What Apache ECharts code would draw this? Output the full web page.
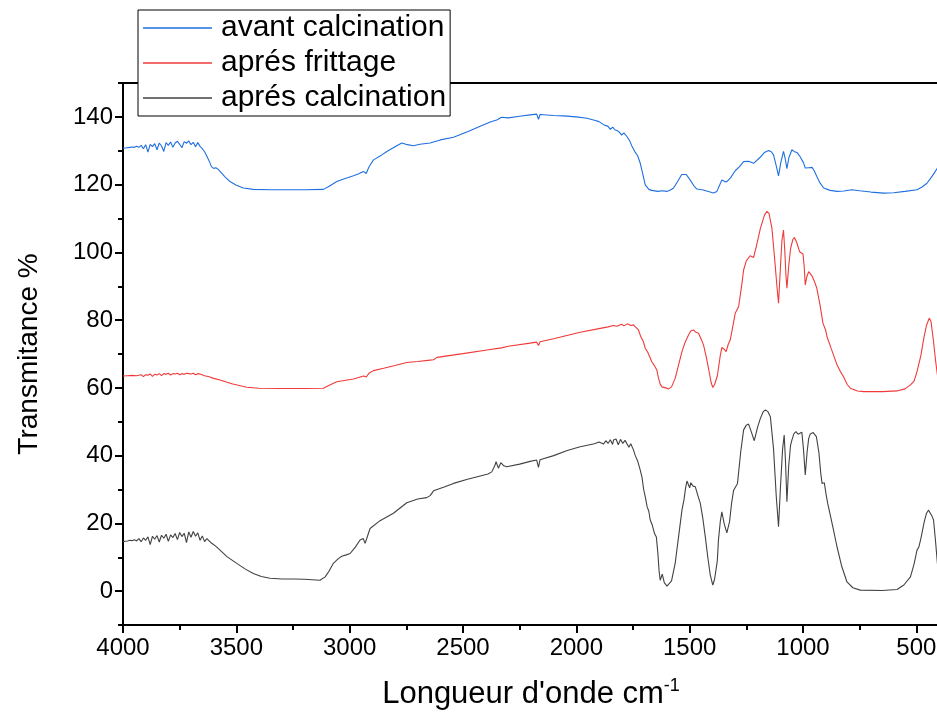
<!DOCTYPE html>
<html><head><meta charset="utf-8">
<script src="https://cdn.jsdelivr.net/npm/echarts@6/dist/echarts.min.js"></script>
<style>html,body{margin:0;padding:0;background:#fff}#c{width:937px;height:713px}</style>
</head><body><div id="c"></div>
<script>
// ---- data ----
const seriesNames = ['avant calcination', 'aprés frittage', 'aprés calcination'];
const xMajorTicks = [500, 1000, 1500, 2000, 2500, 3000, 3500, 4000];
const xMinorTicks = [750, 1250, 1750, 2250, 2750, 3250, 3750];
const yMajorTicks = [0, 20, 40, 60, 80, 100, 120, 140];

const blueWn = [4000,3990,3980,3970,3960,3950,3940,3930,3920,3910,3900,3890,3880,3870,3860,3850,3840,3830,3820,3810,3800,3790,3780,3770,3760,3750,3740,3730,3720,3710,3700,3690,3680,3670,3660,3650,3640,3630,3620,3610,3600,3590,3580,3572,3550,3528,3500,3469,3425,3350,3278,3200,3116,3090,3057,3020,2983,2960,2939,2927,2915,2895,2860,2836,2800,2770,2745,2719,2690,2645,2600,2542,2480,2424,2380,2351,2330,2300,2250,2204,2175,2167,2160,2100,2057,2000,1953,1920,1900,1880,1860,1850,1840,1830,1821,1810,1800,1790,1777,1765,1755,1748,1740,1730,1718,1708,1696,1680,1667,1640,1620,1601,1585,1571,1550,1535,1527,1515,1498,1480,1468,1440,1410,1395,1380,1368,1358,1345,1336,1320,1313,1299,1280,1262,1240,1218,1190,1170,1152,1140,1130,1118,1108,1098,1086,1078,1071,1062,1049,1040,1027,1015,1005,998,990,975,960,950,939,925,909,880,850,820,784,750,700,644,600,550,497,475,453,430,407,400];
const blueT = [130.8,130.8,130.9,131.0,131.1,131.0,131.3,131.0,131.6,130.6,131.8,129.6,131.9,131.2,132.1,130.3,132.3,131.4,129.8,132.4,131.6,132.6,131.0,132.3,132.8,131.9,130.9,132.7,132.2,132.9,131.8,132.5,131.2,132.4,131.3,130.6,129.7,128.4,127.0,125.3,124.8,125.0,124.5,123.9,122.3,120.9,119.8,119.0,118.6,118.5,118.5,118.5,118.6,119.5,120.9,121.8,122.6,123.2,123.9,123.3,125.2,127.3,128.7,129.8,131.2,132.3,131.8,131.5,131.9,132.3,133.2,134.0,135.6,137.2,138.5,139.1,139.9,139.7,140.2,140.6,140.8,139.3,140.7,140.4,140.3,140.0,139.6,139.0,138.6,137.7,137.2,136.3,137.0,136.2,136.0,135.5,134.6,135.3,134.2,133.0,131.4,131.3,129.5,128.6,126.3,123.5,119.9,118.6,118.3,118.0,118.2,118.0,118.4,119.0,121.3,123.0,123.4,123.0,121.4,119.5,118.7,118.4,117.8,117.5,118.0,119.8,121.4,120.9,120.9,122.0,122.4,124.1,125.3,126.8,126.9,126.3,128.0,129.5,130.1,129.7,128.8,125.5,122.6,126.5,129.8,127.5,124.7,128.0,130.3,129.8,129.5,128.5,127.3,126.5,124.9,125.0,125.1,124.0,122.4,120.5,119.0,118.3,118.0,118.1,118.5,118.2,117.8,117.5,117.6,118.0,118.5,119.3,120.4,122.5,124.9,125.5];

const redWn = [4000,3980,3960,3940,3920,3910,3900,3890,3880,3870,3860,3850,3840,3830,3820,3810,3800,3790,3780,3770,3760,3750,3740,3730,3720,3710,3700,3690,3680,3670,3660,3640,3620,3600,3572,3520,3454,3400,3300,3200,3116,3090,3057,2983,2939,2927,2915,2895,2850,2800,2748,2700,2645,2630,2615,2500,2395,2330,2300,2204,2175,2167,2160,2100,1983,1900,1860,1836,1820,1800,1790,1775,1760,1748,1740,1726,1715,1705,1696,1685,1667,1655,1645,1638,1630,1622,1615,1605,1593,1580,1564,1550,1534,1520,1505,1495,1483,1475,1461,1450,1439,1428,1417,1405,1398,1390,1383,1378,1373,1365,1358,1349,1339,1330,1321,1310,1299,1284,1272,1262,1250,1233,1218,1205,1188,1170,1159,1150,1137,1125,1115,1108,1100,1093,1086,1080,1075,1071,1063,1055,1045,1038,1028,1015,1000,995,990,983,975,960,950,939,925,912,900,894,875,850,835,821,805,791,760,733,650,585,550,526,510,497,480,467,455,443,435,424,415,407,400];
const redT = [63.5,63.6,63.7,63.6,63.9,63.3,63.9,63.7,64.1,63.4,64.0,63.8,64.2,63.6,64.2,64.0,64.3,63.8,64.2,64.1,64.3,63.9,64.2,64.0,64.3,64.2,64.1,64.3,63.9,64.2,64.1,63.6,63.3,62.8,62.3,61.2,60.2,59.9,59.8,59.8,59.9,60.8,61.8,62.6,63.5,63.2,64.3,65.1,65.8,66.6,67.5,67.8,68.2,68.3,69.0,70.1,71.2,71.8,72.3,73.2,73.5,72.5,73.6,74.5,76.4,77.5,78.0,78.4,78.2,78.8,78.3,78.9,78.4,78.6,78.4,77.1,75.0,73.8,71.7,70.5,67.7,66.5,65.3,63.0,61.1,60.3,60.7,60.0,59.7,60.3,62.8,66.5,70.7,73.5,75.6,76.8,77.1,76.5,76.1,74.5,72.7,69.5,65.8,61.5,60.1,61.0,60.7,63.5,65.8,69.5,71.9,71.5,70.7,72.8,74.2,78.0,82.0,84.0,89.5,94.8,97.5,99.0,98.5,102.0,107.1,111.0,112.1,111.5,107.1,98.0,90.0,85.0,95.0,103.5,106.6,100.0,93.0,89.4,96.0,101.0,103.8,104.4,103.0,100.2,99.5,96.0,90.4,92.8,94.3,93.0,91.5,89.4,84.5,79.1,77.0,75.1,71.5,66.8,64.8,63.3,61.0,59.9,59.1,58.9,58.9,59.1,59.7,60.9,62.0,64.8,69.5,74.7,78.5,80.6,79.5,73.6,68.0,63.8,62.0];

const blackWn = [4000,3990,3980,3970,3960,3950,3940,3930,3920,3910,3900,3890,3880,3870,3860,3850,3840,3830,3820,3810,3800,3790,3780,3770,3760,3750,3740,3730,3720,3710,3700,3690,3680,3670,3660,3650,3640,3630,3610,3590,3572,3540,3498,3460,3425,3390,3351,3300,3248,3200,3131,3108,3090,3072,3050,3035,3015,2998,2975,2954,2940,2932,2920,2910,2866,2807,2748,2700,2660,2645,2630,2580,2542,2480,2424,2390,2373,2360,2354,2344,2333,2320,2307,2250,2204,2175,2167,2160,2100,2040,1983,1920,1900,1880,1870,1860,1850,1840,1836,1825,1815,1805,1795,1785,1777,1768,1760,1748,1740,1730,1718,1710,1703,1696,1688,1680,1674,1665,1655,1647,1640,1635,1630,1621,1612,1600,1593,1580,1564,1550,1534,1525,1518,1512,1505,1500,1495,1485,1475,1465,1453,1442,1431,1420,1409,1398,1390,1383,1378,1373,1365,1358,1348,1336,1324,1315,1306,1289,1275,1262,1250,1240,1228,1215,1200,1188,1175,1166,1155,1144,1130,1118,1108,1100,1090,1083,1077,1071,1063,1055,1049,1040,1031,1022,1015,1005,998,990,982,975,968,955,941,930,922,916,906,898,891,870,850,830,806,780,747,650,585,555,526,510,497,489,480,465,455,446,438,430,424,415,407,400];
const blackT = [14.6,14.7,14.8,15.0,14.9,15.2,14.8,15.5,14.6,15.7,15.0,16.0,13.7,16.2,15.3,16.4,14.5,16.5,15.6,16.8,14.7,16.6,15.8,17.0,15.2,17.3,16.1,17.1,14.3,17.5,15.9,17.6,16.2,17.2,15.0,16.3,14.6,15.5,14.2,13.2,12.1,10.1,8.2,6.5,5.2,4.3,3.8,3.6,3.6,3.5,3.2,4.2,6.0,8.2,9.6,10.3,10.7,11.1,13.0,15.1,15.5,14.1,16.5,18.5,20.8,23.0,26.1,27.2,27.6,28.2,29.6,30.8,31.8,33.0,34.0,34.6,35.2,37.0,38.2,36.3,37.9,37.0,36.7,37.5,38.3,38.7,36.5,38.8,40.0,41.5,42.6,43.5,44.0,43.4,44.4,43.6,44.7,43.3,44.6,44.9,43.2,44.8,43.6,44.5,44.1,42.5,43.5,41.7,40.0,38.5,35.7,33.5,30.0,27.9,25.0,23.5,21.0,19.5,17.0,16.0,11.0,6.0,3.2,5.0,2.5,1.5,1.3,3.0,8.2,15.5,23.9,27.0,30.5,32.5,32.3,30.5,32.0,31.0,30.8,28.5,25.9,21.5,16.0,10.0,4.7,1.8,3.5,3.2,9.0,15.1,20.5,23.4,20.0,17.2,20.5,26.0,29.8,31.8,41.0,47.6,49.0,49.3,47.0,44.4,48.5,51.0,53.0,53.5,53.0,51.5,42.0,28.0,19.0,30.0,42.0,46.1,38.0,26.4,37.0,43.0,44.6,46.5,47.1,46.3,46.1,46.9,42.0,34.3,41.0,45.0,46.4,46.8,45.6,41.0,35.0,31.8,32.0,28.5,25.9,19.5,13.1,7.5,2.7,1.0,0.3,0.2,0.5,1.8,4.2,8.0,12.1,13.0,15.5,20.5,23.0,23.9,23.5,22.0,21.0,14.5,8.2,5.0];

// ---- chart ----
const pair = (xs, ys) => xs.map((x, i) => [x, ys[i]]);
const FONT = 'Liberation Sans, Arial, sans-serif';
const plain = v => String(v);
const chart = echarts.init(document.getElementById('c'), null, {renderer: 'canvas'});
const lineSeries = (name, xs, ys, color) => ({
  name, type: 'line', data: pair(xs, ys), showSymbol: false, symbol: 'none',
  xAxisIndex: 0, yAxisIndex: 0,
  lineStyle: {color, width: 1.1}, itemStyle: {color}, animation: false, z: 3
});
const rect = {left: 123, top: 83, width: 816, height: 542, containLabel: false, outerBoundsMode: 'none'};
chart.setOption({
  backgroundColor: '#fff',
  animation: false,
  grid: [
    Object.assign({show: true, borderColor: '#000', borderWidth: 2, backgroundColor: 'transparent'}, rect),
    Object.assign({show: false}, rect)
  ],
  legend: {
    left: 138, top: 10, orient: 'vertical',
    data: seriesNames.map(n => ({name: n, icon: 'rect'})),
    itemWidth: 69, itemHeight: 1.5, itemGap: 5,
    padding: [3, 4, 3, 5],
    backgroundColor: '#fff', borderColor: '#000', borderWidth: 1,
    textStyle: {fontFamily: FONT, fontSize: 30, color: '#000', lineHeight: 30, padding: [0, 0, 0, 4]},
    z: 10
  },
  xAxis: [
    {
      gridIndex: 0, type: 'value', inverse: true, min: 400, max: 4000, position: 'bottom',
      axisLine: {onZero: false, lineStyle: {color: '#000', width: 2}},
      axisTick: {customValues: xMajorTicks, length: 8, lineStyle: {color: '#000', width: 2}},
      axisLabel: {customValues: xMajorTicks, formatter: plain, fontFamily: FONT, fontSize: 24, color: '#000', margin: 11},
      splitLine: {show: false},
      name: "Longueur d'onde cm{sup|-1}", nameLocation: 'middle', nameGap: 52,
      nameTextStyle: {fontFamily: FONT, fontSize: 31, color: '#000',
        rich: {sup: {fontFamily: FONT, fontSize: 18, color: '#000', verticalAlign: 'top', padding: [0, 0, 16, 0]}}}
    },
    {
      gridIndex: 1, type: 'value', inverse: true, min: 400, max: 4000, position: 'bottom',
      axisLine: {onZero: false, show: false},
      axisTick: {customValues: xMinorTicks, length: 5, inside: false, lineStyle: {color: '#000', width: 2}},
      axisLabel: {show: false}, splitLine: {show: false}
    }
  ],
  yAxis: [
    {
      gridIndex: 0, type: 'value', min: -10, max: 150, interval: 20, position: 'left',
      axisLine: {onZero: false, show: true, lineStyle: {color: '#000', width: 2}},
      axisTick: {length: 5, lineStyle: {color: '#000', width: 2}},
      axisLabel: {show: false}, splitLine: {show: false}
    },
    {
      gridIndex: 0, type: 'value', min: -10, max: 150, position: 'left', offset: 0,
      axisLine: {onZero: false, show: false},
      axisTick: {customValues: yMajorTicks, length: 8, lineStyle: {color: '#000', width: 2}},
      axisLabel: {customValues: yMajorTicks, formatter: plain, fontFamily: FONT, fontSize: 24, color: '#000', margin: 10},
      splitLine: {show: false},
      name: 'Transmitance %', nameLocation: 'middle', nameGap: 80, nameRotate: 90,
      nameTextStyle: {fontFamily: FONT, fontSize: 28, color: '#000'}
    },
    {
      gridIndex: 1, type: 'value', min: -10, max: 150, show: false
    }
  ],
  series: [
    lineSeries(seriesNames[0], blueWn, blueT, '#1f6fe0'),
    lineSeries(seriesNames[1], redWn, redT, '#f03a3a'),
    lineSeries(seriesNames[2], blackWn, blackT, '#424242')
  ]
});
</script></body></html>
